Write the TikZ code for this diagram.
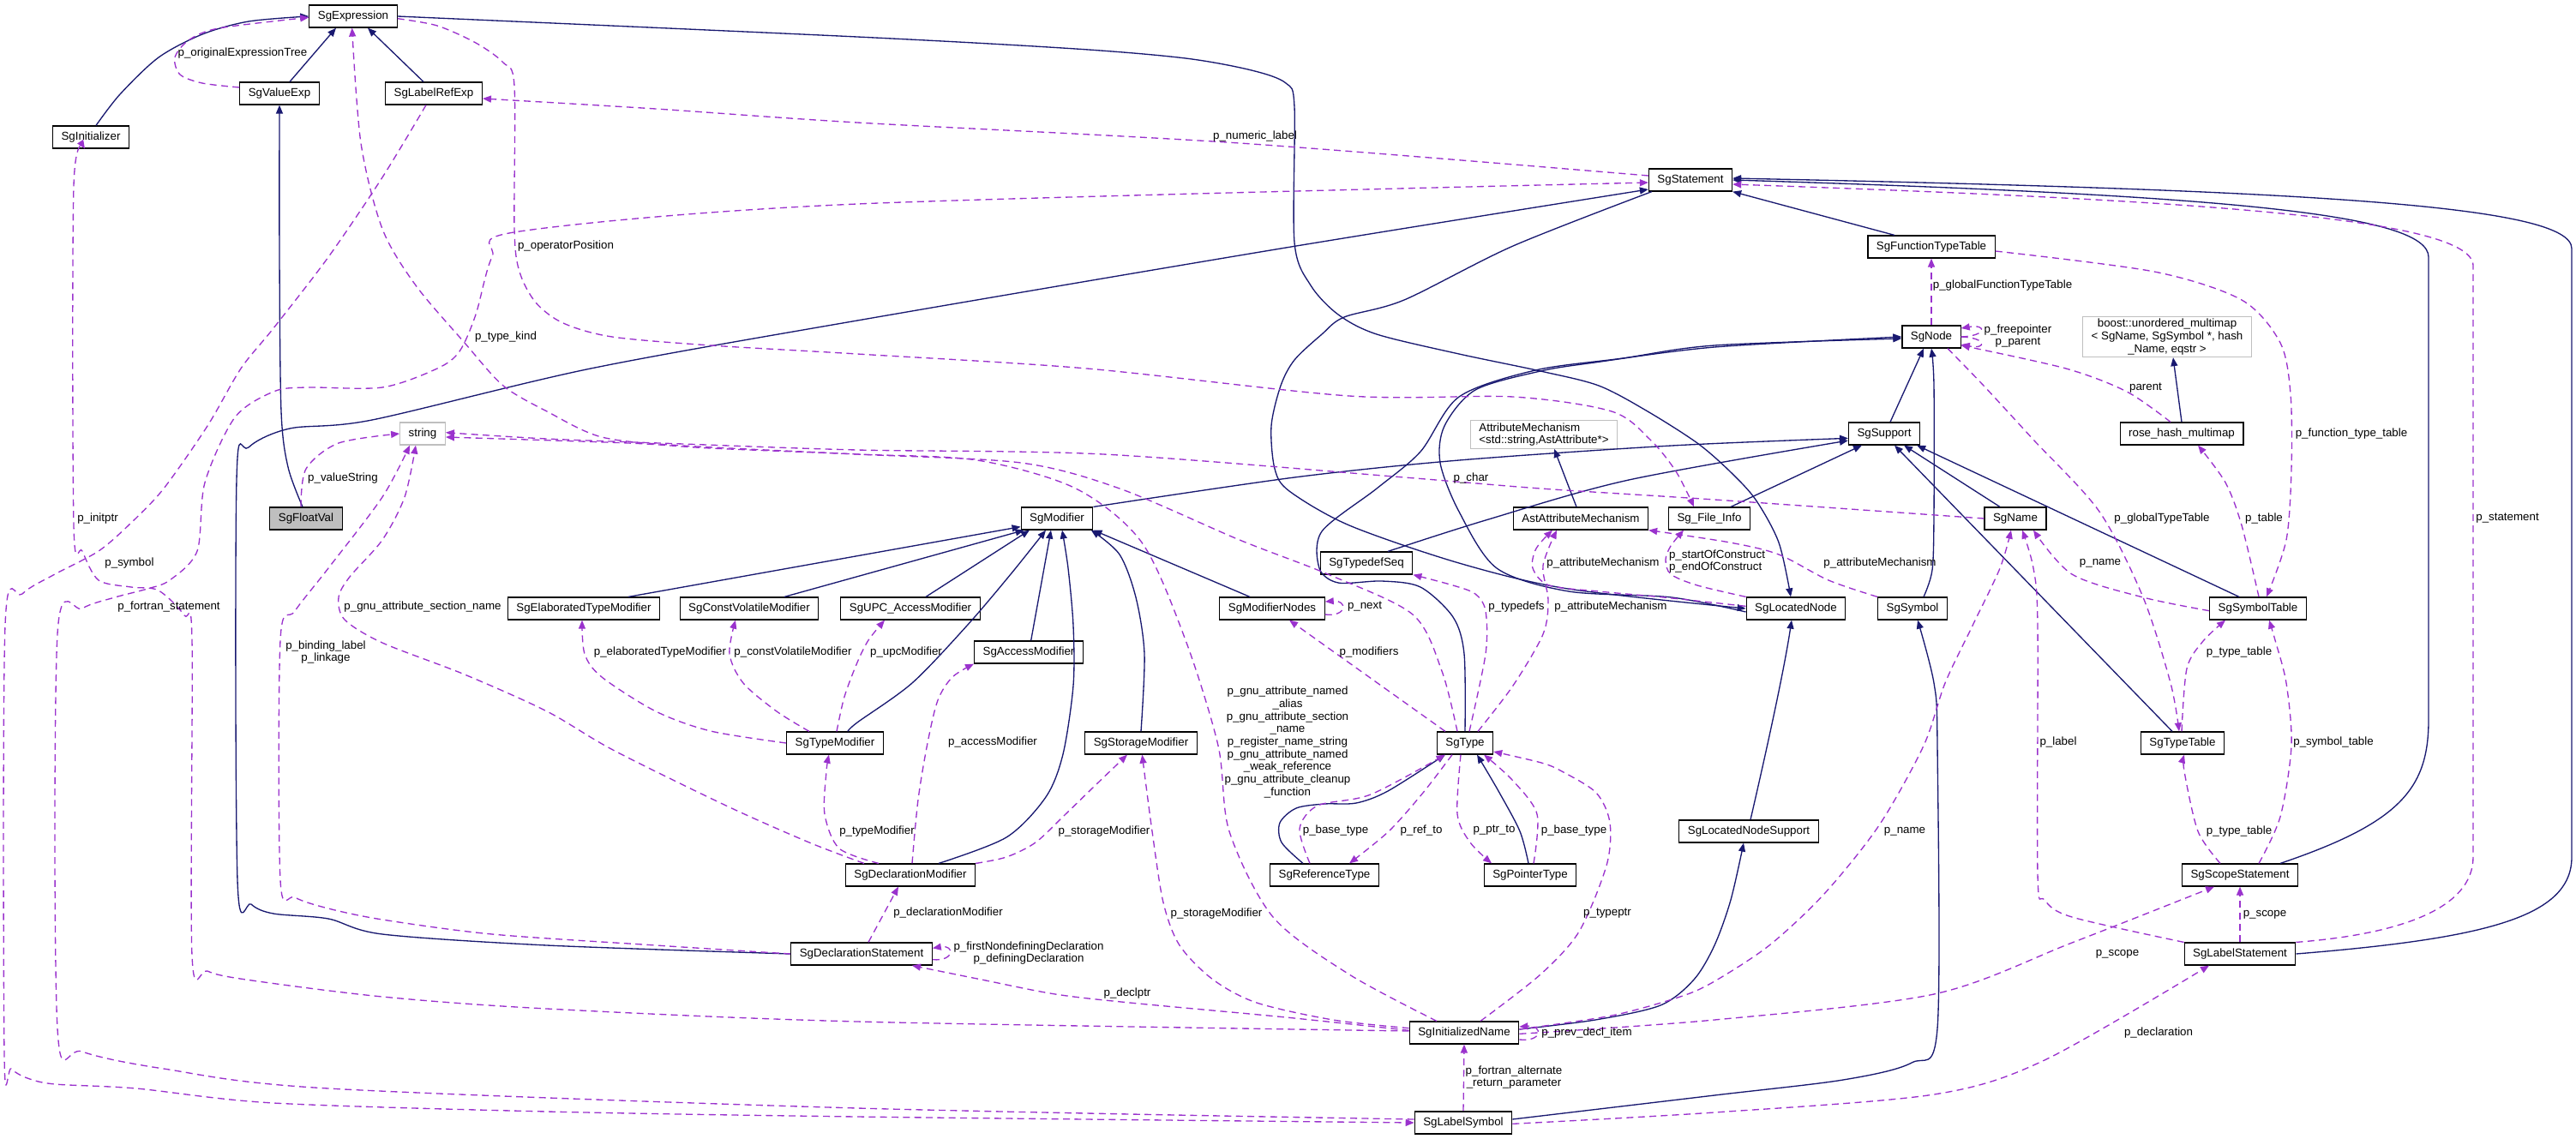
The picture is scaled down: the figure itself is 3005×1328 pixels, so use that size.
\documentclass[tikz,border=0pt]{standalone}
\usepackage{fontspec}
\setmainfont{Liberation Sans}
\usepackage{tikz}
\usetikzlibrary{arrows.meta,positioning}

\definecolor{inhblue}{RGB}{25,25,112}
\definecolor{usepurple}{RGB}{154,50,205}
\definecolor{boxgray}{RGB}{191,191,191}

\tikzset{
  cls/.style={draw=black, line width=0.9pt, fill=white, minimum height=19.5pt,
    inner xsep=7.5pt, inner ysep=2pt, font=\fontsize{10}{11}\selectfont},
  extcls/.style={cls, draw=boxgray},
  focuscls/.style={cls, fill=boxgray},
  lbl/.style={inner sep=0pt, font=\fontsize{10}{11}\selectfont, align=center},
  inherit/.style={draw=inhblue, line width=1pt, -{Triangle[length=7.5pt,width=6pt]}},
  usage/.style={draw=usepurple, line width=1pt, dash pattern=on 6pt off 4pt,
    -{Triangle[length=7.5pt,width=6pt]}},
}

\begin{document}
\begin{tikzpicture}[x=0.75pt,y=-0.75pt]
\useasboundingbox (0,0) rectangle (3005,1328);

% classes
\node[cls] (expr) at (412,19) {SgExpression};
\node[cls] (valexp) at (326,109) {SgValueExp};
\node[cls] (lblref) at (506,109) {SgLabelRefExp};
\node[cls] (init) at (106,160) {SgInitializer};
\node[cls] (stmt) at (1972,210) {SgStatement};
\node[cls] (ftt) at (2253,288) {SgFunctionTypeTable};
\node[cls] (sgnode) at (2253,393) {SgNode};
\node[extcls, align=center] (boost) at (2528,393) {boost::unordered\_multimap\\< SgName, SgSymbol *, hash\\\_Name, eqstr >};
\node[extcls] (strg) at (493,506) {string};
\node[focuscls] (floatv) at (357,605) {SgFloatVal};
\node[cls] (elab) at (681,710) {SgElaboratedTypeModifier};
\node[cls] (cvm) at (874,710) {SgConstVolatileModifier};
\node[cls] (upc) at (1062,710) {SgUPC\_AccessModifier};
\node[cls] (tmod) at (974,867) {SgTypeModifier};
\node[cls] (mod) at (1233,605) {SgModifier};
\node[cls] (acc) at (1200,761) {SgAccessModifier};
\node[cls] (stor) at (1331,867) {SgStorageModifier};
\node[cls] (modn) at (1484,710) {SgModifierNodes};
\node[cls] (tdseq) at (1594,657) {SgTypedefSeq};
\node[extcls, align=left] (attrm) at (1801,507) {AttributeMechanism\\<std::string,AstAttribute*>};
\node[cls] (astattr) at (1844,605) {AstAttributeMechanism};
\node[cls] (finfo) at (1994,605) {Sg\_File\_Info};
\node[cls] (sgtype) at (1709,867) {SgType};
\node[cls] (locn) at (2095,710) {SgLocatedNode};
\node[cls] (sym) at (2231,710) {SgSymbol};
\node[cls] (supp) at (2198,506) {SgSupport};
\node[cls] (rose) at (2545,506) {rose\_hash\_multimap};
\node[cls] (sgname) at (2351,605) {SgName};
\node[cls] (symt) at (2634,710) {SgSymbolTable};
\node[cls] (ttab) at (2546,867) {SgTypeTable};
\node[cls] (dmod) at (1062,1021) {SgDeclarationModifier};
\node[cls] (rtype) at (1545,1021) {SgReferenceType};
\node[cls] (ptype) at (1785,1021) {SgPointerType};
\node[cls] (dstmt) at (1005,1113) {SgDeclarationStatement};
\node[cls] (iname) at (1708,1205) {SgInitializedName};
\node[cls] (lsym) at (1707,1310) {SgLabelSymbol};
\node[cls] (lnsup) at (2040,970) {SgLocatedNodeSupport};
\node[cls] (scope) at (2613,1021) {SgScopeStatement};
\node[cls] (lstmt) at (2613,1113) {SgLabelStatement};

% inheritance
\draw[inherit] ([xshift=9pt]valexp.north) -- ([xshift=-15pt]expr.south);
\draw[inherit] ([xshift=-9pt]lblref.north) -- ([xshift=12.75pt]expr.south);
\draw[inherit] plot[smooth] coordinates {([xshift=4.5pt]init.north) (140,110) (185,67) (236,40) (290,25) (expr.west)};
\draw[inherit] plot[smooth] coordinates {([xshift=-3pt]floatv.north) (336,545) (328,480) (326,300) (valexp.south)};
\draw[inherit] plot[smooth] coordinates {(expr.east) (1000,43) (1255,57) (1383,68) (1460,82) (1500,97) (1510,125) (1510,283) (1529,333) (1561,367) (1606,390) (1702,413) (1797,433) (1865,450) (1922,480) (1980,517) (2018,550) (2048,583) (2075,633) ([xshift=-4.5pt]locn.north)};
\draw[inherit] plot[smooth] coordinates {(dstmt.west) (638,1103) (446,1090) (383,1072) (319,1066) (293,1055) (277,1027) (276,560) (290,522) (338,500) (434,490) (689,430) (1000,374) (1500,289) ([yshift=2pt]stmt.south west)};
\draw[inherit] plot[smooth] coordinates {([xshift=3pt]stmt.south west) (1765,287) (1638,350) (1568,370) (1542,390) (1510,420) (1494,450) (1483,497) (1487,547) (1504,573) (1574,613) (1702,657) (1829,687) (locn.west)};
\draw[inherit] plot[smooth] coordinates {([yshift=-3pt]locn.west) (1950,697) (1830,690) (1746,663) (1702,597) (1680,540) (1685,497) (1721,455) (1797,433) (1860,423) (2000,405) (sgnode.west)};
\draw[inherit] plot[smooth] coordinates {(sgtype.north) (1708,763) (1695,720) (1657,685) (1612,678) (1561,680) (1539,663) (1542,620) (1606,570) (1657,527) (1702,463) (1791,432) (1893,418) (2000,403) ([yshift=-1.5pt]sgnode.west)};
\draw[inherit] ([xshift=5.25pt]supp.north) -- ([xshift=-6.75pt]sgnode.south);
\draw[inherit] plot[smooth] coordinates {([xshift=9.75pt]sym.north) (2254,665) (2256,600) (2256,450) (sgnode.south)};
\draw[inherit] ([xshift=1.5pt]lnsup.north) .. controls (2055,900) and (2080,790) .. ([xshift=-3.75pt]locn.south);
\draw[inherit] plot[smooth] coordinates {([yshift=3pt]iname.east) (1861,1190) (1937,1173) (1976,1143) (2000,1103) (2019,1050) ([xshift=-4.5pt]lnsup.south)};
\draw[inherit] plot[smooth] coordinates {([yshift=3pt]lsym.east) (2000,1278) (2150,1260) (2230,1240) (2260,1200) (2260,870) (2256,797) ([xshift=4.5pt]sym.south)};
\draw[inherit] plot[smooth] coordinates {(mod.north east) (1510,557) (1702,537) (1950,520) ([yshift=-4pt]supp.west)};
\draw[inherit] plot[smooth] coordinates {([xshift=18.75pt]tdseq.north) (1733,607) (1900,560) ([yshift=-6pt]supp.west)};
\draw[inherit] ([xshift=18.75pt]finfo.north) -- ([xshift=-19.5pt]supp.south);
\draw[inherit] ([xshift=-13.5pt]sgname.north) -- ([xshift=17.25pt]supp.south);
\draw[inherit] ([xshift=-16.5pt]symt.north) -- ([xshift=-3pt]supp.south east);
\draw[inherit] ([xshift=-9pt]ttab.north) -- ([xshift=9pt]supp.south);
\draw[inherit] ([xshift=39pt]elab.north) -- ([yshift=3pt]mod.south west);
\draw[inherit] ([xshift=30.75pt]cvm.north) -- ([xshift=3pt]mod.south west);
\draw[inherit] ([xshift=13.5pt]upc.north) -- ([xshift=-24pt]mod.south);
\draw[inherit] plot[smooth] coordinates {([xshift=11.25pt]tmod.north) (1000,843) (1064,797) (1128,730) (1179,670) ([xshift=-9.75pt]mod.south)};
\draw[inherit] ([xshift=2pt]acc.north) -- ([xshift=-5.25pt]mod.south);
\draw[inherit] plot[smooth] coordinates {([xshift=24.75pt]dmod.north) (1174,977) (1220,930) (1240,880) (1252,800) (1252,730) (1246,663) ([xshift=4.5pt]mod.south)};
\draw[inherit] plot[smooth] coordinates {(stor.north) (1335,763) (1325,697) (1306,647) ([xshift=-2pt]mod.south east)};
\draw[inherit] ([xshift=-19.5pt]modn.north) -- (mod.south east);
\draw[inherit] ([xshift=-3.75pt]astattr.north) -- ([xshift=9pt]attrm.south);
\draw[inherit] (rose.north) -- ([xshift=5.25pt]boost.south);
\draw[inherit] ([xshift=-32.25pt]ftt.north) -- (stmt.south east);
\draw[inherit] ([xshift=35.25pt]scope.north) .. controls (2800,960) and (2833,920) .. (2833,840)
  -- (2833,300) .. controls (2833,250) and (2600,228) .. (stmt.east);
\draw[inherit] (lstmt.east) .. controls (2900,1095) and (3000,1070) .. (3000,1000)
  -- (3000,290) .. controls (3000,240) and (2700,222) .. ([yshift=1.5pt]stmt.east);
\draw[inherit] plot[smooth] coordinates {([xshift=-18.75pt]rtype.north) (1495,983) (1493,960) (1512,943) (1545,938) (1582,937) (1619,923) ([xshift=7.5pt]sgtype.south west)};
\draw[inherit] plot[smooth] coordinates {([xshift=-1.5pt]ptype.north) (1773,970) (1748,923) ([xshift=10.5pt]sgtype.south)};

% members
\draw[usage] plot[smooth] coordinates {([yshift=5.25pt]valexp.west) (236,97) (210,87) (204,67) (220,47) (255,33) ([yshift=-1pt]expr.west)};
\draw[usage] plot[smooth] coordinates {([yshift=-2pt]expr.east) (510,30) (555,50) (587,73) (600,100) (600,267) (606,317) (625,353) (657,377) (714,393) (829,403) (1000,413) (1268,430) (1574,462) (1765,463) (1880,480) (1925,513) (1955,550) ([xshift=-13.5pt]finfo.north)};
\draw[usage] plot[smooth] coordinates {([yshift=3.75pt]stmt.west) (1446,167) (1000,143) (765,127) ([yshift=-4.5pt]lblref.east)};
\draw[usage] plot[smooth] coordinates {([yshift=3pt]lsym.west) (1000,1293) (383,1270) (191,1247) (96,1227) (67,1200) (67,740) (96,710) (134,697) (172,687) (198,677) (230,643) (239,563) (274,487) (319,457) (357,452) (446,452) (510,430) (536,410) (555,367) (574,300) (606,270) (1000,238) ([yshift=-2.25pt]stmt.west)};
\draw[usage] plot[smooth] coordinates {([xshift=-6.75pt]sgtype.north) (1682,783) (1648,717) (1549,670) (1446,630) (1306,570) (1191,540) (1000,530) (797,520) (702,510) (638,480) (587,450) (542,400) (485,333) (446,267) (421,167) ([xshift=-1pt]expr.south)};
\draw[usage] plot[smooth] coordinates {([xshift=-4.5pt]floatv.north) (357,547) (395,517) (strg.west)};
\draw[usage] plot[smooth] coordinates {(dstmt.west) (765,1103) (574,1090) (446,1073) (383,1060) (344,1047) (327,1027) (327,747) (344,713) (383,663) (446,580) ([xshift=-11.25pt]strg.south)};
\draw[usage] plot[smooth] coordinates {([xshift=-40.5pt]dmod.north) (944,983) (847,940) (715,875) (638,830) (542,787) (446,750) (402,723) (395,697) (408,673) (446,630) (472,580) ([xshift=-6pt]strg.south)};
\draw[usage] plot[smooth] coordinates {(sgname.west) (2000,583) (1797,570) (1638,557) (1287,530) (1000,525) (797,518) (638,512) ([yshift=1pt]strg.east)};
\draw[usage] plot[smooth] coordinates {([xshift=-24pt]iname.north) (1574,1137) (1485,1070) (1434,970) (1421,870) (1383,747) (1332,633) (1255,570) (1140,537) (1000,530) (829,523) (733,517) ([yshift=-3pt]strg.east)};
\draw[usage] plot[smooth] coordinates {([xshift=-6.75pt]lblref.south) (446,207) (383,300) (319,383) (281,430) (242,497) (191,570) (153,610) (115,643) (64,670) (26,693) (6,730) (5,1230) (13,1247) (32,1258) (64,1265) (159,1270) (319,1287) (638,1297) (1000,1303) (lsym.west)};
\draw[usage] plot[smooth] coordinates {([yshift=1.5pt]iname.west) (1000,1192) (638,1177) (446,1163) (287,1143) (242,1133) (224,1115) (224,747) (215,718) (185,689) (153,685) (115,677) (96,643) (86,613) (86,217) ([xshift=-5.25pt]init.south)};
\draw[usage] plot[smooth] coordinates {(tmod.west) (829,853) (765,830) (702,790) (682,763) ([xshift=-1.5pt]elab.south)};
\draw[usage] plot[smooth] coordinates {([xshift=-22.5pt]tmod.north) (906,830) (867,797) (851,763) ([xshift=-12pt]cvm.south)};
\draw[usage] plot[smooth] coordinates {([xshift=1.5pt]tmod.north) (985,813) (1000,773) (1013,747) ([xshift=-22.5pt]upc.south)};
\draw[usage] plot[smooth] coordinates {([xshift=-27.75pt]dmod.north) (979,990) (962,950) (964,900) ([xshift=-5.25pt]tmod.south)};
\draw[usage] plot[smooth] coordinates {([xshift=1.5pt]dmod.north) (1071,933) (1082,867) (1094,817) (1111,790) (acc.south west)};
\draw[usage] plot[smooth] coordinates {(dmod.north east) (1174,1000) (1208,983) (1243,950) (1277,917) ([xshift=-12pt]stor.south)};
\draw[usage] ([xshift=6pt]dstmt.north) -- ([xshift=-10.5pt]dmod.south);
\draw[usage] ([yshift=-5pt]dstmt.east) .. controls (1114,1122) and (1114,1102) .. ([yshift=5pt]dstmt.east);
\draw[usage] plot[smooth] coordinates {([yshift=2pt]iname.west) (1500,1187) (1318,1170) (1231,1160) (1145,1143) ([xshift=44.25pt]dstmt.south)};
\draw[usage] plot[smooth] coordinates {([yshift=4pt]iname.west) (1555,1190) (1466,1170) (1415,1143) (1376,1103) (1357,1053) (1344,970) ([xshift=1pt]stor.south)};
\draw[usage] plot[smooth] coordinates {([xshift=14.25pt]iname.north) (1797,1137) (1842,1087) (1874,1010) (1878,960) (1862,925) (1822,900) (1798,890) ([yshift=-7.5pt]sgtype.east)};
\draw[usage] ([yshift=-6pt]iname.east) .. controls (1800,1216) and (1800,1196) .. ([yshift=5.25pt]iname.east);
\draw[usage] (lsym.north) -- (iname.south);
\draw[usage] plot[smooth] coordinates {([yshift=3pt]iname.east) (1880,1185) (1960,1163) (2000,1145) (2064,1103) (2128,1043) (2192,963) (2244,870) (2269,797) (2301,730) (2333,663) ([xshift=-3.75pt]sgname.south)};
\draw[usage] plot[smooth] coordinates {([yshift=-1pt]iname.east) (2000,1190) (2256,1160) (2417,1100) ([xshift=-22.5pt]scope.south)};
\draw[usage] plot[smooth] coordinates {([yshift=-1pt]lsym.east) (2000,1298) (2256,1277) (2385,1237) ([xshift=-27pt]lstmt.south)};
\draw[usage] (lstmt.north) -- (scope.south);
\draw[usage] plot[smooth] coordinates {(lstmt.north west) (2417,1070) (2385,1050) (2377,1020) (2377,730) (2372,663) ([xshift=6pt]sgname.south)};
\draw[usage] (lstmt.north east) .. controls (2800,1090) and (2885,1060) .. (2885,1000)
  -- (2885,310) .. controls (2885,250) and (2500,232) .. ([yshift=-3.75pt]stmt.east);
\draw[usage] plot[smooth] coordinates {([xshift=16.5pt]scope.north) (2660,953) (2673,870) (2667,797) (2654,747) ([xshift=9.75pt]symt.south)};
\draw[usage] plot[smooth] coordinates {([xshift=-17.25pt]scope.north) (2564,970) (2548,900) ([xshift=1.5pt]ttab.south)};
\draw[usage] plot[smooth] coordinates {([xshift=-0.75pt]ttab.north) (2551,780) (2570,748) ([xshift=-28.5pt]symt.south)};
\draw[usage] plot[smooth] coordinates {([yshift=-2pt]symt.west) (2500,697) (2417,670) ([xshift=15.75pt]sgname.south)};
\draw[usage] plot[smooth] coordinates {([xshift=0.75pt]symt.north) (2615,613) (2596,563) ([xshift=14.25pt]rose.south)};
\draw[usage] plot[smooth] coordinates {([yshift=-3.75pt]ftt.east) (2513,317) (2615,350) (2660,400) (2672,460) (2673,547) (2667,630) ([xshift=7.5pt]symt.north)};
\draw[usage] (sgnode.north) -- (ftt.south);
\draw[usage] (sgnode.east) .. controls (2318,392) and (2318,378) .. ([yshift=7.5pt]sgnode.east);
\draw[usage] (sgnode.east) .. controls (2318,394) and (2318,408) .. ([yshift=-6.75pt]sgnode.east);
\draw[usage] plot[smooth] coordinates {([xshift=-9.75pt]rose.north) (2481,457) (2410,430) ([yshift=-7.5pt]sgnode.east)};
\draw[usage] plot[smooth] coordinates {([xshift=14.25pt]sgnode.south) (2314,450) (2372,513) (2449,597) (2500,697) (2532,797) ([xshift=-3pt]ttab.north)};
\draw[usage] ([xshift=-17.25pt]sgtype.north) -- ([xshift=15pt]modn.south);
\draw[usage] ([yshift=-5.25pt]modn.east) .. controls (1572,720) and (1572,700) .. ([yshift=6pt]modn.east);
\draw[usage] plot[smooth] coordinates {([xshift=3.75pt]sgtype.north) (1733,763) (1733,713) (1721,693) (1695,683) (tdseq.south east)};
\draw[usage] plot[smooth] coordinates {([xshift=11.25pt]sgtype.north) (1765,800) (1800,740) (1806,700) (1800,660) ([xshift=-21pt]astattr.south)};
\draw[usage] plot[smooth] coordinates {([yshift=2pt]locn.west) (1941,697) (1865,690) (1807,683) (1788,663) (1792,640) ([xshift=-24.75pt]astattr.south)};
\draw[usage] plot[smooth] coordinates {(locn.north west) (1980,683) (1949,670) (1943,653) (1949,637) ([xshift=-22.5pt]finfo.south)};
\draw[usage] plot[smooth] coordinates {(sym.north west) (2133,677) (2075,647) (2018,633) (astattr.south east)};
\draw[usage] plot[smooth] coordinates {([xshift=-11.25pt]sgtype.south) (1660,925) (1620,970) ([xshift=21.75pt]rtype.north)};
\draw[usage] plot[smooth] coordinates {([xshift=-12.75pt]rtype.north) (1516,967) (1537,940) (1599,927) ([xshift=7.5pt]sgtype.south west)};
\draw[usage] plot[smooth] coordinates {([xshift=-3.75pt]sgtype.south) (1700,950) (1715,983) ([xshift=-33.75pt]ptype.north)};
\draw[usage] plot[smooth] coordinates {([xshift=3pt]ptype.north) (1793,950) (1764,910) ([xshift=16.5pt]sgtype.south)};

% member labels
\node[lbl] (lorig) at (283,62) {p\_originalExpressionTree};
\node[lbl] (lopos) at (660,287) {p\_operatorPosition};
\node[lbl] (lnum) at (1464,159) {p\_numeric\_label};
\node[lbl] (lkind) at (590,393) {p\_type\_kind};
\node[lbl] (lvstr) at (400,558) {p\_valueString};
\node[lbl] (linit) at (114,605) {p\_initptr};
\node[lbl] (lsymb) at (151,657) {p\_symbol};
\node[lbl] (lfort) at (197,708) {p\_fortran\_statement};
\node[lbl] (lsect) at (493,708) {p\_gnu\_attribute\_section\_name};
\node[lbl] (lbind) at (380,761) {p\_binding\_label\\p\_linkage};
\node[lbl] (lelab) at (770,761) {p\_elaboratedTypeModifier};
\node[lbl] (lcvm) at (925,761) {p\_constVolatileModifier};
\node[lbl] (lupc) at (1057,761) {p\_upcModifier};
\node[lbl] (lacc) at (1158,866) {p\_accessModifier};
\node[lbl] (ltmod) at (1023,970) {p\_typeModifier};
\node[lbl] (lstor) at (1288,970) {p\_storageModifier};
\node[lbl] (ldmod) at (1106,1065) {p\_declarationModifier};
\node[lbl] (listor) at (1419,1066) {p\_storageModifier};
\node[lbl] (ldecl) at (1315,1159) {p\_declptr};
\node[lbl] (ldef) at (1200,1112) {p\_firstNondefiningDeclaration\\p\_definingDeclaration};
\node[lbl] (lchar) at (1716,558) {p\_char};
\node[lbl] (lnext) at (1592,708) {p\_next};
\node[lbl] (lmods) at (1597,761) {p\_modifiers};
\node[lbl] (ltdef) at (1769,708) {p\_typedefs};
\node[lbl] (lattt) at (1879,708) {p\_attributeMechanism};
\node[lbl] (lattl) at (1870,657) {p\_attributeMechanism};
\node[lbl, align=left] (lcons) at (2003,655) {p\_startOfConstruct\\p\_endOfConstruct};
\node[lbl] (latts) at (2193,657) {p\_attributeMechanism};
\node[lbl] (lgnu) at (1502,866) {p\_gnu\_attribute\_named\\\_alias\\p\_gnu\_attribute\_section\\\_name\\p\_register\_name\_string\\p\_gnu\_attribute\_named\\\_weak\_reference\\p\_gnu\_attribute\_cleanup\\\_function};
\node[lbl] (lref) at (1658,969) {p\_ref\_to};
\node[lbl] (lrbase) at (1558,969) {p\_base\_type};
\node[lbl] (lptr) at (1743,969) {p\_ptr\_to};
\node[lbl] (lpbase) at (1836,969) {p\_base\_type};
\node[lbl] (ltptr) at (1875,1066) {p\_typeptr};
\node[lbl] (lprev) at (1851,1205) {p\_prev\_decl\_item};
\node[lbl] (lalt) at (1766,1257) {p\_fortran\_alternate\\\_return\_parameter};
\node[lbl] (lgftt) at (2336,333) {p\_globalFunctionTypeTable};
\node[lbl] (lfree) at (2354,392) {p\_freepointer\\p\_parent};
\node[lbl] (lpar) at (2503,453) {parent};
\node[lbl] (lftt) at (2743,506) {p\_function\_type\_table};
\node[lbl] (lgtt) at (2522,605) {p\_globalTypeTable};
\node[lbl] (ltab) at (2641,605) {p\_table};
\node[lbl] (lstat) at (2925,605) {p\_statement};
\node[lbl] (lsname) at (2450,657) {p\_name};
\node[lbl] (lttab) at (2612,761) {p\_type\_table};
\node[lbl] (llab) at (2401,866) {p\_label};
\node[lbl] (lsymt) at (2722,866) {p\_symbol\_table};
\node[lbl] (liname) at (2222,970) {p\_name};
\node[lbl] (lstt) at (2612,970) {p\_type\_table};
\node[lbl] (lscope) at (2642,1067) {p\_scope};
\node[lbl] (liscope) at (2470,1113) {p\_scope};
\node[lbl] (ldeclr) at (2518,1205) {p\_declaration};
\end{tikzpicture}
\end{document}
